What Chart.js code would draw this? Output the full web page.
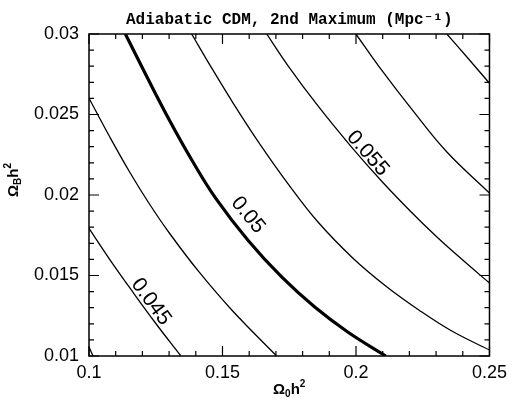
<!DOCTYPE html>
<html>
<head>
<meta charset="utf-8">
<script src="https://cdn.jsdelivr.net/npm/chart.js@4/dist/chart.umd.min.js"></script>
<style>
html, body { margin: 0; padding: 0; background: #fff; }
#wrap { width: 513px; height: 401px; }
</style>
</head>
<body>
<div id="wrap"><canvas id="contours"></canvas></div>
<script>
let xTicks = [0.1, 0.15, 0.2, 0.25];
let yTicks = [0.01, 0.015, 0.02, 0.025, 0.03];

// contours of k at 2nd peak, x = Omega_0 h^2, y = Omega_B h^2
let c0425x = [0.1, 0.10075, 0.1015];
let c0425y = [0.01056, 0.01028, 0.0100];

let c045x = [0.1, 0.1078, 0.11585, 0.12488, 0.13442];
let c045y = [0.01793, 0.01599, 0.0141, 0.01205, 0.0100];

let c0475x = [0.1, 0.1078, 0.11522, 0.12265, 0.13008, 0.14122, 0.15347, 0.17028];
let c0475y = [0.02601, 0.0236, 0.02143, 0.01944, 0.01764, 0.01522, 0.01286, 0.0100];

let c05x = [0.11363, 0.12154, 0.13008, 0.13873, 0.14742, 0.15978, 0.17215, 0.18455, 0.19691, 0.21113];
let c05y = [0.03, 0.02739, 0.02466, 0.02211, 0.01981, 0.01714, 0.01491, 0.01304, 0.01149, 0.0100];

let c0525x = [0.13843, 0.14615, 0.15421, 0.16349, 0.17463, 0.18577, 0.19877, 0.21113, 0.22353, 0.23589, 0.25];
let c0525y = [0.03, 0.02783, 0.02565, 0.02329, 0.02068, 0.01832, 0.01609, 0.01435, 0.01286, 0.01155, 0.01037];

let c055x = [0.16657, 0.17463, 0.18577, 0.19802, 0.2099, 0.2203, 0.23032, 0.23997, 0.25];
let c055y = [0.03, 0.02801, 0.02553, 0.02304, 0.02081, 0.01901, 0.01739, 0.01596, 0.01453];

let c0575x = [0.19999, 0.20927, 0.22167, 0.23404, 0.25];
let c0575y = [0.03, 0.02783, 0.02516, 0.02267, 0.02012];

let c06x = [0.23404, 0.24146, 0.25];
let c06y = [0.03, 0.02859, 0.02694];

let contours = [
    [c0425x, c0425y], [c045x, c045y], [c0475x, c0475y], [c05x, c05y],
    [c0525x, c0525y], [c055x, c055y], [c0575x, c0575y], [c06x, c06y]
];
let thickIndex = 3;

// inline labels (baseline start) and the contour they follow
let labelText = ['0.045', '0.05', '0.055'];
let labelX = [0.1156, 0.1530, 0.1963];
let labelY = [0.01447, 0.0195, 0.02357];
let labelCurve = [1, 3, 5];

function curveY(xs, ys, x) {
    for (let i = 0; i < xs.length - 1; i++) {
        if (x >= xs[i] && x <= xs[i + 1]) {
            let t = (x - xs[i]) / (xs[i + 1] - xs[i]);
            return ys[i] + t * (ys[i + 1] - ys[i]);
        }
    }
    return ys[ys.length - 1];
}

let datasets = contours.map(function (c, i) {
    return {
        data: c[0].map(function (x, j) { return { x: x, y: c[1][j] }; }),
        showLine: true,
        borderColor: '#000',
        borderWidth: i === thickIndex ? 3.2 : 1.3,
        pointRadius: 0,
        tension: 0.4
    };
});

let framePlugin = {
    id: 'frame',
    afterDatasetsDraw: function (chart) {
        let c = chart.ctx;
        let a = chart.chartArea;
        let xs = chart.scales.x, ys = chart.scales.y;
        c.save();
        c.strokeStyle = '#000';
        c.lineWidth = 1.5;
        c.strokeRect(a.left, a.top, a.right - a.left, a.bottom - a.top);

        // inward ticks on all four sides
        c.lineWidth = 1.2;
        c.beginPath();
        for (let i = 0; i <= 15; i++) {
            let v = 0.1 + i * 0.01;
            let len = i % 5 === 0 ? 10 : 5;
            let px = xs.getPixelForValue(v);
            c.moveTo(px, a.bottom); c.lineTo(px, a.bottom - len);
            c.moveTo(px, a.top); c.lineTo(px, a.top + len);
        }
        for (let i = 0; i <= 20; i++) {
            let v = 0.01 + i * 0.001;
            let len = i % 5 === 0 ? 10 : 5;
            let py = ys.getPixelForValue(v);
            c.moveTo(a.left, py); c.lineTo(a.left + len, py);
            c.moveTo(a.right, py); c.lineTo(a.right - len, py);
        }
        c.stroke();

        // contour labels
        c.fillStyle = '#000';
        c.font = '21px "Liberation Sans", Arial, sans-serif';
        c.textAlign = 'left';
        c.textBaseline = 'alphabetic';
        labelText.forEach(function (t, i) {
            let cv = contours[labelCurve[i]];
            let x1 = xs.getPixelForValue(labelX[i]);
            let x2 = x1 + 30;
            let y1 = ys.getPixelForValue(curveY(cv[0], cv[1], labelX[i]));
            let y2 = ys.getPixelForValue(curveY(cv[0], cv[1], xs.getValueForPixel(x2)));
            let ang = Math.atan2(y2 - y1, x2 - x1);
            c.save();
            c.translate(xs.getPixelForValue(labelX[i]), ys.getPixelForValue(labelY[i]));
            c.rotate(ang);
            c.fillText(t, 0, 0);
            c.restore();
        });

        // title
        c.font = 'bold 16px "Liberation Mono", "DejaVu Sans Mono", monospace';
        c.textAlign = 'center';
        c.textBaseline = 'middle';
        c.fillText('Adiabatic CDM, 2nd Maximum (Mpc\u207B\u00B9)', (a.left + a.right) / 2, 20);

        // axis titles with sub/superscripts
        function sym(sub, cx, cy) {
            let parts = [
                ['\u03A9', 'bold 15px "Liberation Sans", Arial', 0],
                [sub, 'bold 10px "Liberation Sans", Arial', 4],
                ['h', 'bold 15px "Liberation Sans", Arial', 0],
                ['2', 'bold 10px "Liberation Sans", Arial', -6]
            ];
            let w = 0;
            parts.forEach(function (p) { c.font = p[1]; w += c.measureText(p[0]).width; });
            let x = cx - w / 2;
            c.textAlign = 'left';
            c.textBaseline = 'middle';
            parts.forEach(function (p) {
                c.font = p[1];
                c.fillText(p[0], x, cy + p[2]);
                x += c.measureText(p[0]).width;
            });
        }
        sym('0', (a.left + a.right) / 2, 390);
        c.save();
        c.translate(14, 180);
        c.rotate(-Math.PI / 2);
        sym('B', 0, 0);
        c.restore();
        c.restore();
    }
};

let ctx = document.getElementById('contours').getContext('2d');
let contourChart = new Chart(ctx, {
    type: 'scatter',
    data: { datasets: datasets },
    options: {
        responsive: true,
        maintainAspectRatio: false,
        animation: false,
        layout: { padding: { top: 34, right: 20, left: 0, bottom: 0 } },
        plugins: {
            legend: { display: false },
            tooltip: { enabled: false }
        },
        scales: {
            x: {
                type: 'linear',
                min: 0.1,
                max: 0.25,
                afterBuildTicks: function (s) { s.ticks = xTicks.map(function (v) { return { value: v }; }); },
                afterFit: function (s) { s.height = 45; },
                grid: { display: false, drawTicks: false },
                border: { display: false },
                ticks: {
                    padding: 6,
                    color: '#000',
                    font: { family: '"Liberation Sans", Arial, sans-serif', size: 18 },
                    callback: function (v) { return String(v); }
                }
            },
            y: {
                type: 'linear',
                min: 0.01,
                max: 0.03,
                afterBuildTicks: function (s) { s.ticks = yTicks.map(function (v) { return { value: v }; }); },
                afterFit: function (s) { s.width = 89; },
                grid: { display: false, drawTicks: false },
                border: { display: false },
                ticks: {
                    padding: 10,
                    color: '#000',
                    font: { family: '"Liberation Sans", Arial, sans-serif', size: 18 },
                    callback: function (v) { return String(v); }
                }
            }
        }
    },
    plugins: [framePlugin]
});
</script>
</body>
</html>
